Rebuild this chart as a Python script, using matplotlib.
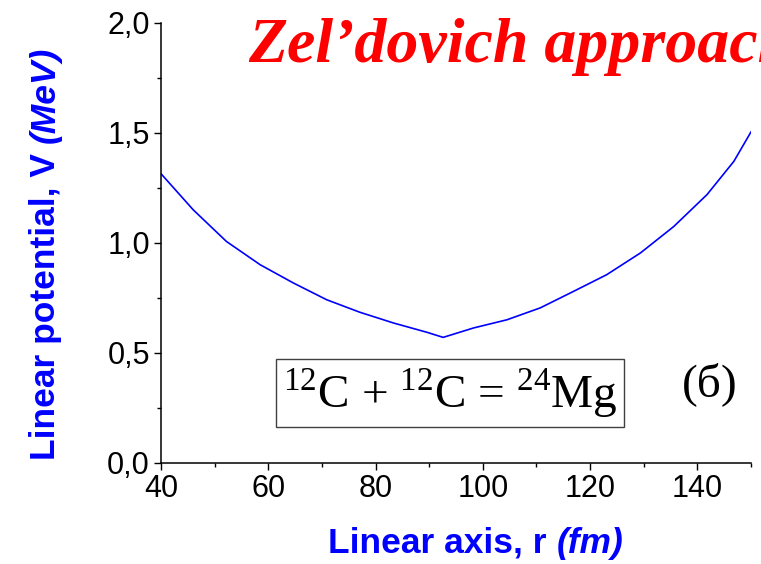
import matplotlib
matplotlib.use("Agg")
import matplotlib.pyplot as plt
from matplotlib.ticker import MultipleLocator

# читаем с графика
r_fm = [40.0, 46.0, 52.2, 58.5, 64.7, 70.9, 77.1, 83.4, 89.6, 92.6,
        98.3, 104.5, 110.7, 116.9, 123.1, 129.4, 135.6, 141.8, 146.8, 150.0]
v_mev = [1.315, 1.151, 1.007, 0.901, 0.818, 0.742, 0.685, 0.636, 0.594, 0.571,
         0.614, 0.651, 0.705, 0.780, 0.856, 0.955, 1.075, 1.220, 1.371, 1.505]

x_ticks = [40, 60, 80, 100, 120, 140]
y_ticks = [0.0, 0.5, 1.0, 1.5, 2.0]

plt.rcParams['font.family'] = ['Liberation Sans', 'DejaVu Sans']
plt.rcParams['mathtext.fontset'] = 'custom'
plt.rcParams['mathtext.rm'] = 'Liberation Serif'

BLUE = '#0000ff'

fig = plt.figure(figsize=(7.61, 5.64), dpi=100)
ax = fig.add_axes([161 / 761, 1 - 463 / 564, 590 / 761, 440 / 564])

ax.plot(r_fm, v_mev, color=BLUE, lw=1.2)

ax.set_xlim(40, 150)
ax.set_ylim(0, 2.0)
ax.set_xticks(x_ticks)
ax.set_yticks(y_ticks)
ax.xaxis.set_minor_locator(MultipleLocator(10))
ax.yaxis.set_minor_locator(MultipleLocator(0.25))
ax.yaxis.set_major_formatter(
    plt.FuncFormatter(lambda v, p: f"{v:.1f}".replace('.', ',')))

for s in ['top', 'right']:
    ax.spines[s].set_visible(False)
for s in ['left', 'bottom']:
    ax.spines[s].set_linewidth(1.1)

ax.tick_params(which='major', direction='out', length=5, width=1.0,
               labelsize=22, pad=3)
ax.tick_params(which='minor', direction='out', length=3, width=1.0)

# подписи осей: обычная часть + курсив
lab_fs = 25.5
xl = fig.text(328 / 761, 1 - 553 / 564, 'Linear axis, r ', fontsize=lab_fs,
              fontweight='bold', color=BLUE, ha='left', va='baseline')
ax.annotate('(fm)', xy=(1, 0), xycoords=xl, fontsize=lab_fs,
            fontweight='bold', fontstyle='italic', color=BLUE,
            ha='left', va='bottom', annotation_clip=False)

yl = fig.text(55 / 761, 1 - 460 / 564, 'Linear potential, V ', rotation=90,
              fontsize=lab_fs, fontweight='bold', color=BLUE,
              ha='left', va='baseline', rotation_mode='anchor')
ax.annotate('(MeV)', xy=(0, 1), xycoords=yl, rotation=90, fontsize=lab_fs,
            fontweight='bold', fontstyle='italic', color=BLUE,
            ha='left', va='bottom', annotation_clip=False)

fig.text(248 / 761, 1 - 62 / 564, 'Zel\u2019dovich approach',
         fontsize=46, fontweight='bold', fontstyle='italic',
         family='Liberation Serif', color='#ff0000', va='baseline')

fig.text(450 / 761, 1 - 393 / 564,
         r'$^{12}$C + $^{12}$C = $^{24}$Mg',
         fontsize=34, family='Liberation Serif', ha='center', va='center',
         bbox=dict(boxstyle='square,pad=0.15', fc='white', ec='#404040', lw=1.0))
fig.text(710 / 761, 1 - 384 / 564, '(\u0431)', fontsize=34,
         family='Liberation Serif', ha='center', va='center')

fig.savefig('out.png', dpi=100)
